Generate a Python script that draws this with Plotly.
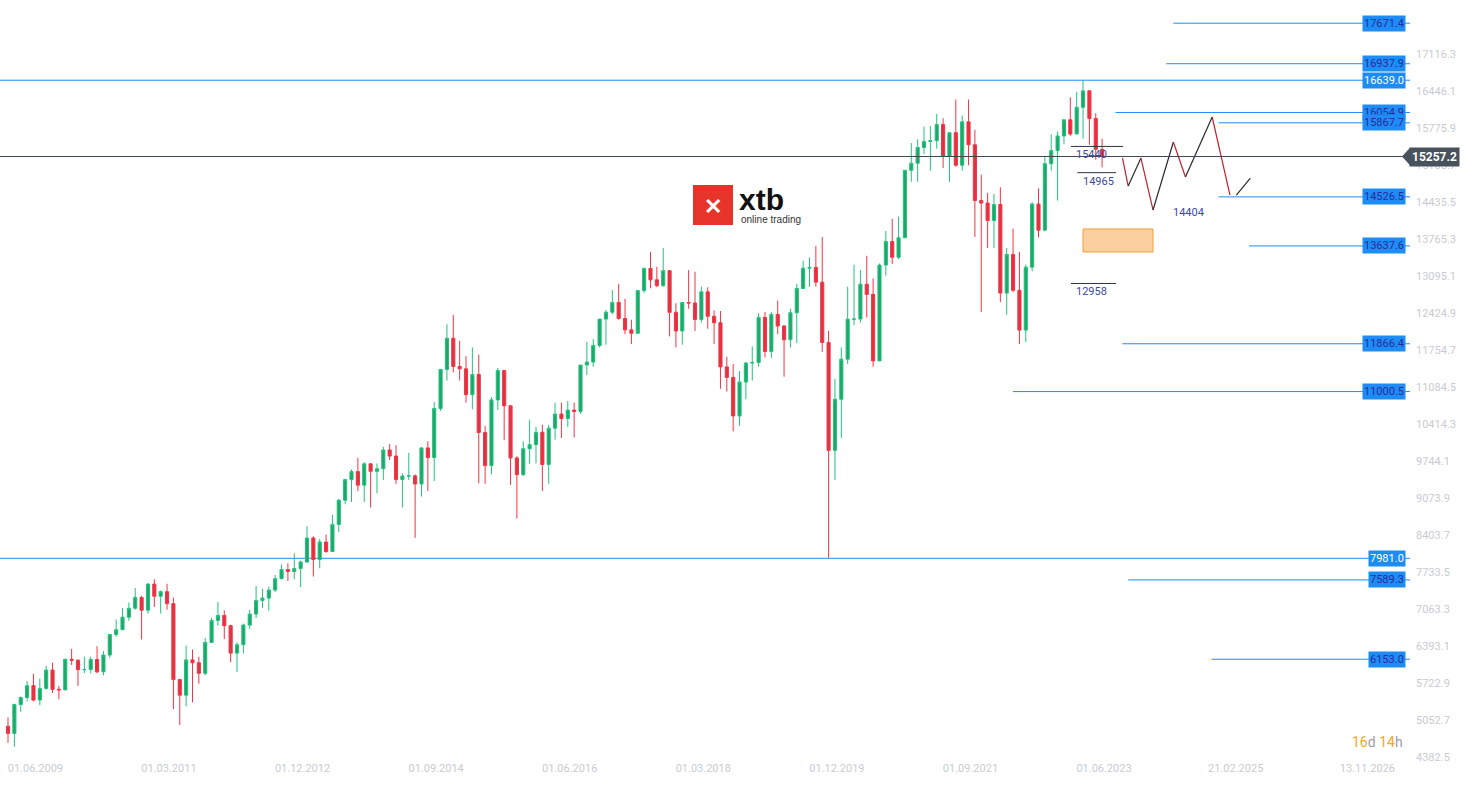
import plotly.graph_objects as go

# ---------------- data ----------------
close = [4809,5332,5458,5675,5415,5625,5957,
 5608,5598,6153,6135,5964,5966,6148,5925,6229,6601,6688,6914,
 7077,7272,7041,7514,7294,7376,7159,5785,5502,6141,6089,5898,
 6458,6856,6947,6761,6264,6416,6772,6970,7216,7260,7406,7612,
 7776,7741,7795,7914,8349,7959,8276,8104,8594,9033,9406,9552,
 9306,9692,9556,9603,9943,9833,9407,9470,9474,9327,9980,9806,
 10694,11402,11966,11454,11413,10945,11309,10259,9660,10850,11382,10743,
 9798,9495,9966,10039,10263,9680,10337,10593,10511,10665,10640,11481,
 11535,11834,12313,12438,12615,12325,12118,12056,12829,13230,13024,12918,
 13189,12436,12097,12612,12605,12306,12806,12364,12247,11447,11257,10559,
 11173,11516,11526,12344,11727,12399,12189,11939,12428,12867,13236,13249,
 12982,11890,9936,10862,11587,12311,12313,12945,12761,11556,13291,13719,
 13433,13786,15008,15136,15421,15531,15544,15835,15261,15688,15100,15885,
 15471,14461,14415,14098,14388,12784,13484,12835,12114,13253,14397,13924,
 15128,15365,15629,15922,15664,16148,16447,15947,15387,15257]
high = [5100,5350,5480,5760,5890,5800,6030,
 6090,5670,6160,6340,6150,6200,6200,6390,6300,6610,6870,7080,
 7180,7440,7300,7530,7600,7400,7520,7270,5800,6400,6330,6200,
 6540,6900,7190,7040,6780,6460,6800,7050,7480,7430,7470,7680,
 7870,7890,8070,7940,8560,8380,8330,8410,8770,9060,9420,9590,
 9800,9720,9700,9700,10000,10050,10030,9520,9890,9500,9990,10100,
 10810,11400,12220,12390,11920,11640,11800,11670,10380,10900,11430,11300,
 10490,9830,10100,10490,10360,10400,10400,10800,10800,10830,10800,11480,
 11900,11950,12310,12480,12840,12950,12680,12300,12830,13250,13530,13260,
 13600,13200,12600,12620,13200,13170,12900,12890,12470,12460,11630,11500,
 11370,11540,11820,12420,12440,12440,12650,12200,12500,12950,13370,13430,
 13640,13800,12100,11230,11800,12900,13300,13200,13460,13050,13320,13910,
 14130,14170,15010,15500,15570,15800,15810,16030,15950,15700,16290,16000,
 16290,15740,14930,14600,14580,14700,13600,13950,13530,13300,14430,14680,
 15270,15660,15710,15900,16330,16430,16639,16060,16040,15580]
low = [4640,4570,5200,5390,5390,5320,5600,
 5540,5430,5600,6050,5670,5900,5900,5900,5860,6180,6560,6700,
 6850,7050,6510,6980,7100,6980,7050,5250,4960,5300,5370,5710,
 5860,6450,6760,6520,6100,5920,6260,6700,6900,7080,7030,7370,
 7600,7570,7600,7460,7900,7650,7800,8080,8110,8460,8960,9000,
 9200,9000,8900,9160,9400,9760,9330,8900,9400,8350,9100,9200,
 9380,10650,11200,11350,11200,10800,10680,9340,9330,9500,10670,10120,
 9310,8700,9470,9690,9700,9200,9330,10130,10160,10360,10170,10600,
 11300,11450,11800,11850,12400,12300,12040,11860,12120,12790,12870,12890,
 12900,12000,11800,11850,12500,12100,12250,12140,11860,11050,11000,10280,
 10380,10860,11200,11450,11620,11610,12040,11270,11800,11880,12900,12900,
 12900,11720,7990,9400,10160,11500,12200,12250,12340,11450,11560,13100,
 13310,13400,13780,14800,14800,15300,15000,15400,15050,14800,15070,15000,
 15100,13800,12440,13600,13600,12620,12390,12800,11860,11900,13180,13790,
 13900,15000,14460,15480,15630,15700,15580,15470,15200,15060]
first_open = 4940
openp = [first_open] + close[:-1]
idx = list(range(len(close)))

# level lines: value, start month index (None = full width), white text?
levels = [17671.4, 16937.9, 16639.0, 16054.9, 15867.7, 14526.5, 13637.6, 11866.4, 11000.5, 7981.0, 7589.3, 6153.0]
level_start = [183.2, 182.1, None, 174.1, 190.3, 190.3, 195.1, 175.2, 158.0, None, 176.1, 189.2]
level_white = [False, False, True, False, False, False, False, False, False, True, False, False]
current_price = 15257.2

# projected path (month index, price)
path_x = [175.2, 176.1, 178.1, 180.0, 183.2, 185.1, 189.3, 192.1]
path_y = [15230, 14723, 15230, 14289, 15520, 14886, 15973, 14560]
tail_x = [193.1, 195.3]
tail_y = [14560, 14868]

# marked levels with small labels: value, x0, x1
marks = [(15440, 167.1, 175.3), (14965, 168.1, 174.2), (12958, 167.1, 174.2)]
mark_14404 = (14404, 185.5)
zone = (169.0, 180.0, 13528, 13945)

ytick_vals = [4382.5,5052.7,5722.9,6393.1,7063.3,7733.5,8403.7,9073.9,9744.1,10414.3,11084.5,11754.7,
              12424.9,13095.1,13765.3,14435.5,15105.7,15775.9,16446.1,17116.3]
xtick_pos = [0,21,42,63,84,105,126,147,168,188.7,209.4]
xtick_text = ["01.06.2009","01.03.2011","01.12.2012","01.09.2014","01.06.2016","01.03.2018",
              "01.12.2019","01.09.2021","01.06.2023","21.02.2025","13.11.2026"]

# ---------------- figure ----------------
XMIN, XMAX = -1.26, 220.4
YMIN, YMAX = 4328.2, 18091.8
BLUE = "#1e8cf5"
PW, PH = 1410, 760

fig = go.Figure()
fig.add_trace(go.Candlestick(x=idx, open=openp, high=high, low=low, close=close,
    increasing=dict(line=dict(color="#22c27d", width=1), fillcolor="#1fa56a"),
    decreasing=dict(line=dict(color="#f43446", width=1), fillcolor="#de3341"),
    whiskerwidth=0, showlegend=False, hoverinfo="skip"))

shapes = []
annotations = []
for v, s, w in zip(levels, level_start, level_white):
    x0 = XMIN if s is None else s
    shapes.append(dict(type="line", xref="x", yref="y", x0=x0, x1=XMAX, y0=v, y1=v,
                       line=dict(color=BLUE, width=1), layer="below"))
    annotations.append(dict(xref="paper", yref="y", x=1406/PW, y=v, xanchor="right", yanchor="middle",
                            text=f"{v:.1f}", showarrow=False, bgcolor=BLUE, borderpad=1,
                            font=dict(family="Roboto", size=11, color="white" if w else "#2b2a9c")))
shapes.append(dict(type="line", xref="x", yref="y", x0=XMIN, x1=XMAX, y0=current_price, y1=current_price,
                   line=dict(color="#3d4852", width=1)))
for v, a, b in marks:
    shapes.append(dict(type="line", xref="x", yref="y", x0=a, x1=b, y0=v, y1=v, line=dict(color="#2a3440", width=1)))
    annotations.append(dict(xref="x", yref="y", x=a + 0.5, y=v, xanchor="left", yanchor="top", text=str(v),
                            showarrow=False, font=dict(family="Roboto", size=11, color="#3c4a9e")))
annotations.append(dict(xref="x", yref="y", x=mark_14404[1], y=mark_14404[0], xanchor="center", yanchor="top",
                        text=str(mark_14404[0]), showarrow=False, font=dict(family="Roboto", size=11, color="#3c4a9e")))
shapes.append(dict(type="rect", xref="x", yref="y", x0=zone[0], x1=zone[1], y0=zone[2], y1=zone[3],
                   fillcolor="#fbd09e", line=dict(color="#f0a040", width=1)))

for i in range(len(path_x) - 1):
    col = "#c0222d" if i % 2 == 0 else "#2a2a2a"
    fig.add_trace(go.Scatter(x=path_x[i:i+2], y=path_y[i:i+2], mode="lines", line=dict(color=col, width=1.2),
                             showlegend=False, hoverinfo="skip"))
fig.add_trace(go.Scatter(x=tail_x, y=tail_y, mode="lines", line=dict(color="#2a2a2a", width=1.2),
                         showlegend=False, hoverinfo="skip"))

# current price tag
annotations.append(dict(xref="paper", yref="y", x=1409/PW, y=current_price, xanchor="left", yanchor="middle",
                        text="<b>15257.2</b>", showarrow=False, bgcolor="#47525c", borderpad=2,
                        font=dict(family="Roboto", size=12, color="white")))
shapes.append(dict(type="path", xref="paper", yref="y",
                   path=f"M {1410/PW} {current_price+160} L {1402/PW} {current_price} L {1410/PW} {current_price-160} Z",
                   fillcolor="#47525c", line=dict(width=0)))

# logo
shapes.append(dict(type="rect", xref="paper", yref="paper", x0=693/PW, x1=733/PW, y0=1-225/PH, y1=1-185/PH,
                   fillcolor="#e8332a", line=dict(width=0)))
annotations.append(dict(xref="paper", yref="paper", x=713/PW, y=1-205/PH, text="<b>✕</b>", showarrow=False,
                        font=dict(size=22, color="white"), xanchor="center", yanchor="middle"))
annotations.append(dict(xref="paper", yref="paper", x=737/PW, y=1-199/PH, text="<b>xtb</b>", showarrow=False,
                        font=dict(family="Arial", size=30, color="#111"), xanchor="left", yanchor="middle"))
annotations.append(dict(xref="paper", yref="paper", x=739/PW, y=1-219/PH, text="online trading", showarrow=False,
                        font=dict(family="Arial", size=10, color="#333"), xanchor="left", yanchor="middle"))
annotations.append(dict(xref="paper", yref="paper", x=1405/PW, y=1-742/PH,
                        text="<span style='color:#f5a623'>16</span>d <span style='color:#f5a623'>14</span>h",
                        showarrow=False, font=dict(family="Roboto", size=14, color="#9aa0a8"),
                        xanchor="right", yanchor="middle"))

fig.update_layout(width=1474, height=787, margin=dict(l=0, r=64, t=0, b=27, autoexpand=False),
    plot_bgcolor="white", paper_bgcolor="white", shapes=shapes, annotations=annotations,
    xaxis=dict(range=[XMIN, XMAX], rangeslider=dict(visible=False), showgrid=False, zeroline=False,
               tickvals=[p + 4.3 for p in xtick_pos], ticktext=xtick_text, ticks="", automargin=False,
               tickfont=dict(family="Roboto", size=11, color="#c8ccd2")),
    yaxis=dict(range=[YMIN, YMAX], side="right", showgrid=False, zeroline=False, tickvals=ytick_vals,
               ticktext=[f"{v:.1f}" for v in ytick_vals], ticks="", automargin=False, ticklabelstandoff=5,
               tickfont=dict(family="Roboto", size=11, color="#c8ccd2")))
fig.write_html("out.html", config={"displayModeBar": False},
               post_script="document.body.style.margin='0';document.body.style.overflow='hidden';")
